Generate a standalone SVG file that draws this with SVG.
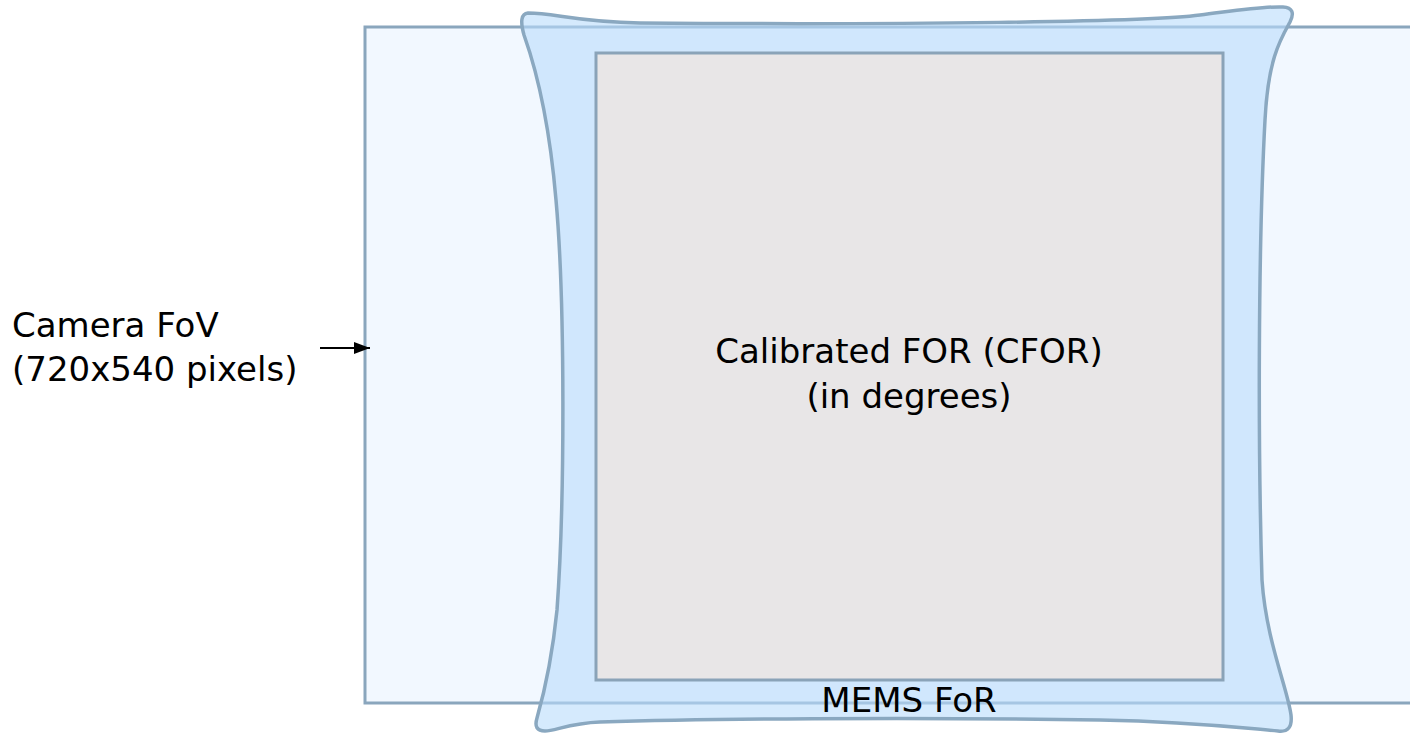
<svg xmlns="http://www.w3.org/2000/svg" width="1410" height="733" viewBox="0 0 1410 733">
<defs>
<style>
.lbl{font-family:"DejaVu Sans","Liberation Sans",sans-serif;font-size:34px;fill:#000}
</style>
<marker id="ah" viewBox="0 0 16 12" refX="16" refY="6" markerWidth="16" markerHeight="12" markerUnits="userSpaceOnUse" orient="auto">
<path d="M0,0 L16,6 L0,12 Z" fill="#000"/>
</marker>
</defs>
<rect width="1410" height="733" fill="#ffffff"/>
<g id="camera-fov">
<rect x="365" y="27" width="1060" height="676" fill="#f2f8ff" stroke="#8aa6bd" stroke-width="3"/>
</g>
<g id="mems-for">
<path d="M528,13 C555,13 575,22 640,23 C900,25 1150,22 1200,15 C1240,10 1265,6 1283,7 Q1297,8 1290,22 C1280,40 1268,60 1265,120 C1258,250 1258,450 1262,580 C1266,640 1288,690 1291,715 Q1293,733 1278,731 C1240,728 1200,722 1100,720 C900,717 700,719 600,722 C570,723 555,731 545,731 Q533,731 537,718 C545,690 553,650 557,610 C565,500 565,300 556,200 C550,130 540,80 524,35 Q518,14 528,13 Z" fill="#b9dcfc" fill-opacity="0.6" stroke="#8aa8c0" stroke-width="3.5"/>
<text class="lbl" x="909" y="712" text-anchor="middle">MEMS FoR</text>
</g>
<g id="cfor">
<rect x="596" y="53" width="627" height="627" fill="#e8e6e7" stroke="#8aa3b8" stroke-width="3"/>
<text class="lbl" x="909" y="363" text-anchor="middle">Calibrated FOR (CFOR)</text>
<text class="lbl" x="909" y="408" text-anchor="middle">(in degrees)</text>
</g>
<g id="camera-label">
<text class="lbl" x="12" y="337">Camera FoV</text>
<text class="lbl" x="12" y="381">(720x540 pixels)</text>
</g>
<g id="connectors">
<line x1="320" y1="348" x2="370" y2="348" stroke="#000" stroke-width="2" marker-end="url(#ah)"/>
</g>
</svg>
